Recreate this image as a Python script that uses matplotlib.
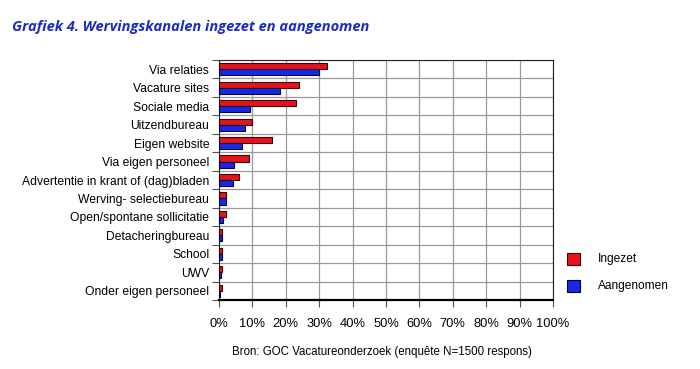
import matplotlib.pyplot as plt
import numpy as np
from matplotlib.ticker import FixedLocator, PercentFormatter

categories = ["Via relaties", "Vacature sites", "Sociale media", "Uitzendbureau",
              "Eigen website", "Via eigen personeel", "Advertentie in krant of (dag)bladen",
              "Werving- selectiebureau", "Open/spontane sollicitatie", "Detacheringbureau",
              "School", "UWV", "Onder eigen personeel"]
ingezet = [32.2, 24, 23.2, 10, 16, 9, 6, 2, 2, 1, 1, 1, 1]
aangenomen = [30, 18.2, 9.4, 7.8, 7, 4.6, 4.2, 2, 1.2, 1, 1, 0.5, 0.3]

red = '#e8121c'
blue = '#1a28e6'

plt.rcParams['font.family'] = ['Liberation Sans', 'DejaVu Sans']

fig = plt.figure(figsize=(7, 3.69), dpi=100, facecolor='w')
ax = fig.add_axes([219 / 700, 1 - 300 / 369, 334 / 700, 240 / 369])

n = len(categories)
y = np.arange(n)
h = 0.33
ax.barh(y - h / 2, ingezet, height=h, color=red, edgecolor='#3a0000', linewidth=0.8, zorder=3)
ax.barh(y + h / 2, aangenomen, height=h, color=blue, edgecolor='#00003a', linewidth=0.8, zorder=3)

ax.set_ylim(n - 0.5, -0.5)
ax.set_xlim(0, 100)
ax.set_yticks(y)
ax.set_yticklabels(categories, fontsize=8.7)
ax.yaxis.set_minor_locator(FixedLocator(np.arange(n + 1) - 0.5))
ax.tick_params(axis='y', which='major', length=0, pad=7)
ax.tick_params(axis='y', which='minor', length=5, width=0.8, color='#555555')
ax.set_xticks(np.arange(0, 101, 10))
ax.xaxis.set_major_formatter(PercentFormatter(decimals=0))
ax.tick_params(axis='x', length=5, width=0.8, color='#555555', labelsize=9.3, pad=8)

ax.grid(axis='x', which='major', color='#9a9a9a', linewidth=0.9, zorder=0)
ax.grid(axis='y', which='minor', color='#9a9a9a', linewidth=0.9, zorder=0)
ax.set_axisbelow(True)

for s in ['top', 'right', 'left']:
    ax.spines[s].set_color('#222222')
    ax.spines[s].set_linewidth(0.8)
ax.spines['bottom'].set_linewidth(1.6)
ax.spines['bottom'].set_color('black')

fig.text(12 / 700, 1 - 27 / 369, "Grafiek 4. Wervingskanalen ingezet en aangenomen",
         fontsize=10.5, color='#1a2cc4', fontstyle='italic', fontweight='bold',
         family=['Open Sans', 'DejaVu Sans'], va='center', ha='left')

fig.text(382 / 700, 1 - 352 / 369, "Bron: GOC Vacatureonderzoek (enquête N=1500 respons)",
         fontsize=8.3, ha='center', va='center')

# legend
for yy, col, ec, lab in [(259, red, '#3a0000', "Ingezet"), (286, blue, '#00003a', "Aangenomen")]:
    fig.patches.append(plt.Rectangle((567 / 700, 1 - (yy + 6) / 369), 13 / 700, 12 / 369,
                                     transform=fig.transFigure, facecolor=col, edgecolor=ec,
                                     linewidth=0.8))
    fig.text(598 / 700, 1 - yy / 369, lab, fontsize=8.6, va='center', ha='left')

fig.savefig("out.png", dpi=100)
